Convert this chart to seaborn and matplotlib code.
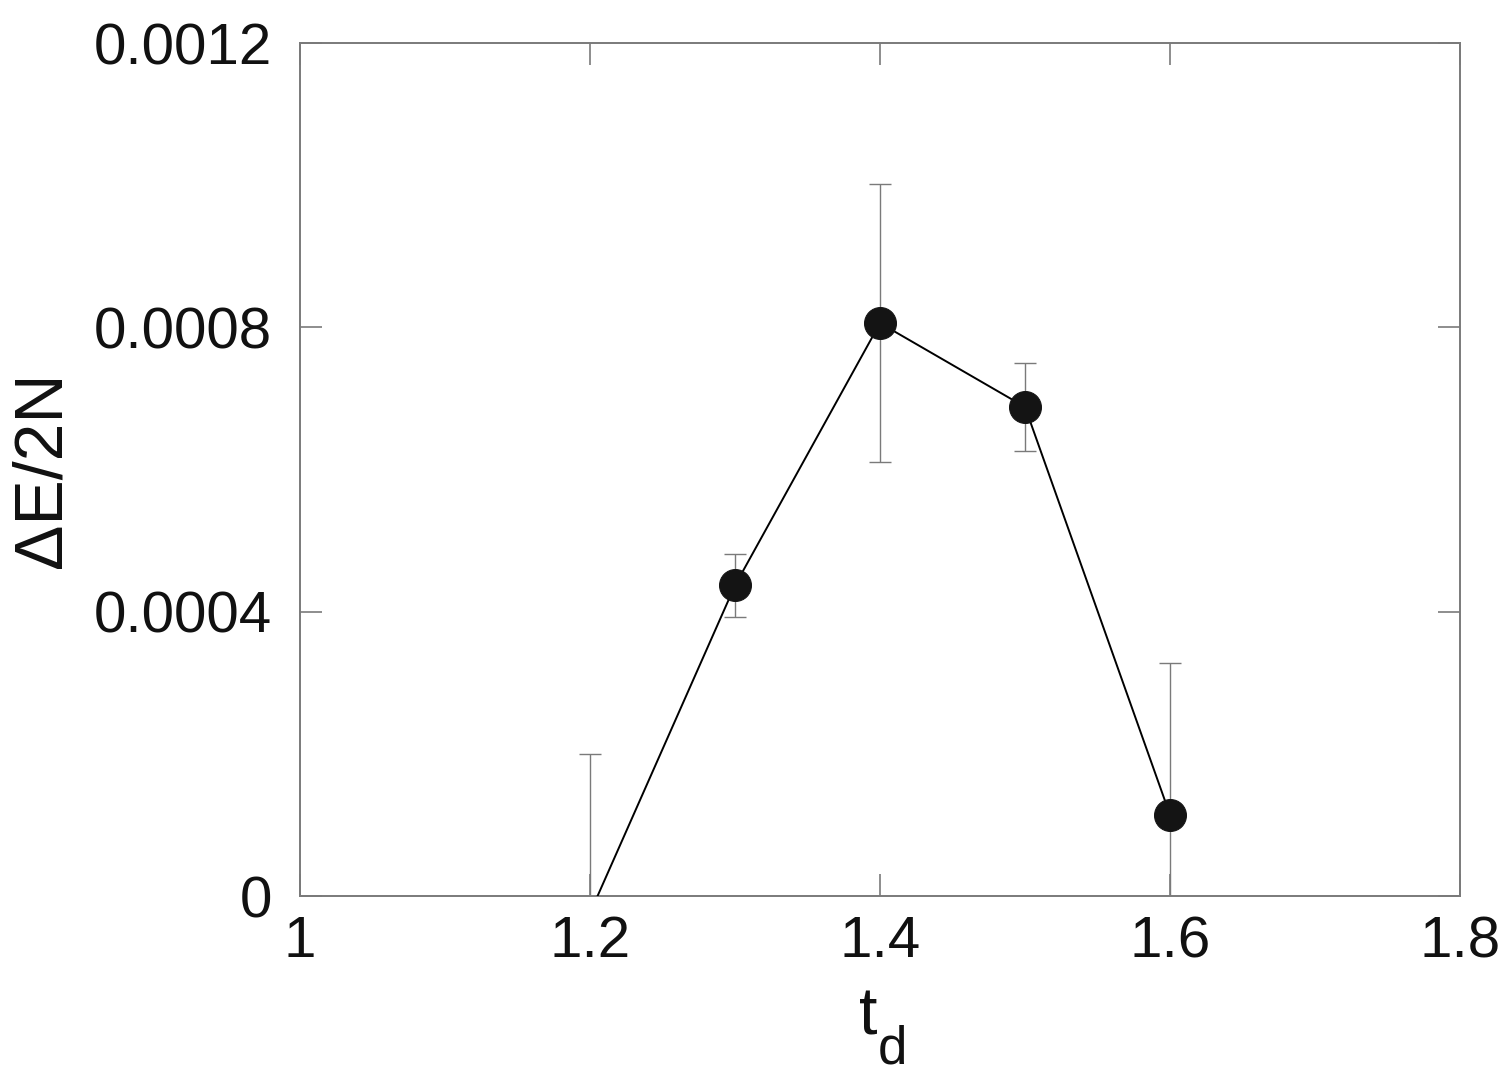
import numpy as np
import pandas as pd
import seaborn as sns
import matplotlib
matplotlib.use("Agg")
import matplotlib.pyplot as plt

# values
td = [1.2, 1.3, 1.4, 1.5, 1.6]
dE = [-0.000024, 0.000437, 0.000806, 0.000688, 0.000114]
err = [0.000224, 0.000044, 0.000195, 0.000062, 0.000214]

xticks = [1.0, 1.2, 1.4, 1.6, 1.8]
xlabels = ["1", "1.2", "1.4", "1.6", "1.8"]
yticks = [0.0, 0.0004, 0.0008, 0.0012]
ylabels = ["0", "0.0004", "0.0008", "0.0012"]

data = pd.DataFrame({"td": td, "dE": dE, "err": err})

sns.set_theme(style="ticks")
plt.rcParams["font.family"] = ["Liberation Sans", "DejaVu Sans"]

fig = plt.figure(figsize=(15.06, 10.87), dpi=100)
ax = fig.add_axes([0.1992, 0.1757, 0.7703, 0.7847])

frame = "#7a7a7a"
ax.errorbar(data["td"], data["dE"], yerr=data["err"], fmt="none",
            ecolor=frame, elinewidth=1.0, capsize=8, capthick=1.0, zorder=2)
sns.lineplot(data=data, x="td", y="dE", ax=ax, color="black", linewidth=1.4,
             marker="o", markersize=23, markerfacecolor="#141414",
             markeredgecolor="#141414", zorder=3)

ax.set_xlim(1.0, 1.8)
ax.set_ylim(0.0, 0.0012)
ax.set_xticks(xticks)
ax.set_xticklabels(xlabels)
ax.set_yticks(yticks)
ax.set_yticklabels(ylabels)

for s in ax.spines.values():
    s.set_color(frame)
    s.set_linewidth(1.4)
ax.tick_params(direction="in", length=16, width=1.2, color=frame,
               top=True, right=True, labelsize=42, labelcolor="#111111")
ax.tick_params(axis="x", pad=14)
ax.tick_params(axis="y", pad=20)

# x label: "t" with a deep subscript "d"
ax.set_xlabel("t", fontsize=48, color="#111111")
ax.xaxis.set_label_coords(0.4897, -0.106)
ax.text(0.4983, -0.1958, "d", transform=ax.transAxes, fontsize=38,
        color="#111111", ha="left", va="baseline")
ax.set_ylabel("ΔE/2N", fontsize=49, color="#111111", labelpad=14)

fig.savefig("out.png", dpi=100)
